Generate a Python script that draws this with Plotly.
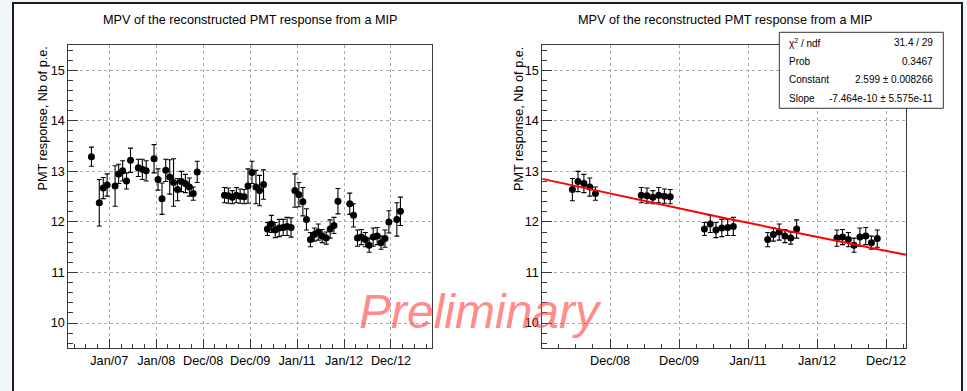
import math
from datetime import datetime, timedelta

import plotly.graph_objects as go

# Monthly most probable value of the PMT response to a MIP (p.e.)
months = [
    "2006-08", "2006-10", "2006-11", "2006-12", "2007-02", "2007-03", "2007-04",
    "2007-05", "2007-06", "2007-08", "2007-09", "2007-10", "2007-12", "2008-01",
    "2008-02", "2008-03", "2008-04", "2008-05", "2008-06", "2008-07", "2008-08",
    "2008-09", "2008-10", "2008-11", "2009-06", "2009-07", "2009-08", "2009-09",
    "2009-10", "2009-11", "2009-12", "2010-01", "2010-02", "2010-03", "2010-04",
    "2010-05", "2010-06", "2010-07", "2010-08", "2010-09", "2010-10", "2010-11",
    "2010-12", "2011-01", "2011-02", "2011-03", "2011-04", "2011-05", "2011-06",
    "2011-07", "2011-08", "2011-09", "2011-10", "2011-11", "2012-02", "2012-03",
    "2012-04", "2012-05", "2012-06", "2012-07", "2012-08", "2012-09", "2012-10",
    "2012-11", "2012-12", "2013-02", "2013-03",
]
mpv = [
    13.29, 12.38, 12.67, 12.73, 12.71, 12.95, 13.01,
    12.81, 13.22, 13.07, 13.04, 13.01, 13.25, 12.84,
    12.46, 13.02, 12.89, 12.78, 12.64, 12.80, 12.76,
    12.69, 12.56, 12.99, 12.53, 12.52, 12.49, 12.53,
    12.51, 12.50, 12.71, 12.98, 12.69, 12.62, 12.74,
    11.86, 11.96, 11.84, 11.88, 11.89, 11.91, 11.89,
    12.62, 12.54, 12.40, 12.05, 11.65, 11.75, 11.80,
    11.72, 11.68, 11.86, 11.93, 12.41, 12.36, 12.13,
    11.68, 11.70, 11.65, 11.54, 11.70, 11.72, 11.59,
    11.67, 12.00, 12.05, 12.21,
]
mpv_err = [
    0.19, 0.46, 0.21, 0.22, 0.40, 0.19, 0.20,
    0.16, 0.24, 0.17, 0.20, 0.20, 0.28, 0.21,
    0.31, 0.22, 0.34, 0.47, 0.22, 0.20, 0.18,
    0.18, 0.13, 0.21, 0.15, 0.15, 0.13, 0.15,
    0.14, 0.14, 0.34, 0.22, 0.33, 0.30, 0.29,
    0.13, 0.17, 0.15, 0.17, 0.16, 0.18, 0.19,
    0.33, 0.24, 0.28, 0.21, 0.14, 0.13, 0.16,
    0.13, 0.12, 0.18, 0.16, 0.25, 0.21, 0.23,
    0.16, 0.15, 0.14, 0.14, 0.18, 0.17, 0.13,
    0.17, 0.22, 0.33, 0.28,
]

# Months that enter the exponential fit
fit_months = [
    "2008-06", "2008-07", "2008-08", "2008-09", "2008-10",
    "2009-06", "2009-07", "2009-08", "2009-09", "2009-10", "2009-11",
    "2010-05", "2010-06", "2010-07", "2010-08", "2010-09", "2010-10",
    "2011-04", "2011-05", "2011-06", "2011-07", "2011-08", "2011-09",
    "2012-04", "2012-05", "2012-06", "2012-07", "2012-08", "2012-09",
    "2012-10", "2012-11",
]

# Fit result: expo, y = exp(constant + slope * t), t in seconds since fit_t0
chi2, ndf = 31.4, 29
prob = 0.3467
fit_constant, fit_constant_err = 2.599, 0.008266
fit_slope, fit_slope_err = -7.464e-10, 5.575e-11
fit_t0 = datetime(2006, 2, 1)

# Time axis: major divisions every 365.25 days from 2007-01-01
tick_labels = ["Jan/07", "Jan/08", "Dec/08", "Dec/09", "Jan/11", "Jan/12", "Dec/12"]
y_ticks = [10, 11, 12, 13, 14, 15]

title_text = "MPV of the reconstructed PMT response from a MIP"
y_title = "PMT response, Nb of p.e."

# ---------------------------------------------------------------------------
W, H = 967, 391
FONT = "Liberation Sans, Arial, Helvetica, sans-serif"


def fx(p):
    return p / W


def fy(p):
    return 1 - p / H


tick0 = datetime(2007, 1, 1)
year = timedelta(days=365.25)
tick_dates = [tick0 + i * year for i in range(len(tick_labels))]
minor_dates = [tick0 + (k / 4.0) * year for k in range(-5, 29) if k % 4 != 0]

x_all = [m + "-15" for m in months]
lookup = dict(zip(months, zip(mpv, mpv_err)))
x_fit = [m + "-15" for m in fit_months]
y_fit = [lookup[m][0] for m in fit_months]
e_fit = [lookup[m][1] for m in fit_months]

left_range = [datetime(2006, 2, 16), datetime(2013, 11, 18)]
right_range = [datetime(2008, 1, 7, 19), datetime(2013, 4, 16)]

# Fitted curve over the whole right-hand time range
n_line = 200
span = (right_range[1] - right_range[0]).total_seconds()
line_x = [right_range[0] + timedelta(seconds=span * i / (n_line - 1)) for i in range(n_line)]
line_y = [math.exp(fit_constant + fit_slope * (t - fit_t0).total_seconds()) for t in line_x]

marker = dict(size=7, color="black")
errbar = dict(type="data", color="black", thickness=1.1, width=2.5)

fig = go.Figure()
fig.add_trace(go.Scatter(
    x=x_all, y=mpv, mode="markers", marker=marker,
    error_y=dict(errbar, array=mpv_err), xaxis="x", yaxis="y", showlegend=False,
))
fig.add_trace(go.Scatter(
    x=x_fit, y=y_fit, mode="markers", marker=marker,
    error_y=dict(errbar, array=e_fit), xaxis="x2", yaxis="y2", showlegend=False,
))
fig.add_trace(go.Scatter(
    x=line_x, y=line_y, mode="lines", line=dict(color="#ff0000", width=2),
    xaxis="x2", yaxis="y2", showlegend=False, hoverinfo="skip",
))

axis_line = dict(
    showline=True, linecolor="#3a3a3a", linewidth=1, mirror=True,
    ticks="inside", tickcolor="#3a3a3a", tickwidth=1,
    showgrid=True, gridcolor="#a8a8a8", griddash="dot", gridwidth=1,
    zeroline=False, tickfont=dict(family=FONT, size=12.7, color="black"),
    fixedrange=True,
)


def x_axis(domain, rng, anchor):
    return dict(
        axis_line, type="date", domain=domain, range=rng, anchor=anchor,
        tickmode="array", tickvals=tick_dates, ticktext=tick_labels, ticklen=9,
        minor=dict(tickmode="array", tickvals=minor_dates, ticks="inside",
                   ticklen=4.5, tickcolor="#3a3a3a", showgrid=False),
    )


def y_axis(anchor):
    return dict(
        axis_line, anchor=anchor, domain=[fy(348.3), fy(45)], range=[9.5, 15.5],
        tickmode="array", tickvals=y_ticks, ticklen=10,
        minor=dict(dtick=0.2, tick0=0, ticks="inside", ticklen=5,
                   tickcolor="#3a3a3a", showgrid=False),
    )


annotations = []
for cx, ax_x in ((250, 42.5), (725, 519)):
    annotations.append(dict(
        text=title_text, x=fx(cx), y=fy(20), xref="paper", yref="paper",
        xanchor="center", yanchor="middle", showarrow=False,
        font=dict(family=FONT, size=12.7, color="black"),
    ))
    annotations.append(dict(
        text=y_title, x=fx(ax_x), y=fy(45), xref="paper", yref="paper",
        xanchor="center", yanchor="top", textangle=-90, showarrow=False,
        font=dict(family=FONT, size=12.7, color="black"),
    ))

# Fit statistics box
stat_rows = [
    ("\u03c7<sup>2</sup> / ndf", f"{chi2:g} / {ndf}"),
    ("Prob", f"{prob:.4f}"),
    ("Constant", f"{fit_constant:.3f} \u00b1 {fit_constant_err:g}"),
    ("Slope", f"{fit_slope:.3e} \u00b1 {fit_slope_err:.3e}"),
]
row_y = [42.7, 61, 80, 98.3]
for (lab, val), ry in zip(stat_rows, row_y):
    annotations.append(dict(
        text=lab, x=fx(786.5), y=fy(ry), xref="paper", yref="paper",
        xanchor="left", yanchor="middle", showarrow=False,
        font=dict(family=FONT, size=10, color="black"),
    ))
    annotations.append(dict(
        text=val, x=fx(934.5), y=fy(ry), xref="paper", yref="paper",
        xanchor="right", yanchor="middle", showarrow=False,
        font=dict(family=FONT, size=10, color="black"),
    ))

annotations.append(dict(
    text="<i>Preliminary</i>", x=fx(480), y=fy(311), xref="paper", yref="paper",
    xanchor="center", yanchor="middle", showarrow=False,
    font=dict(family=FONT, size=48, color="rgba(255,60,60,0.62)"),
))

shapes = [
    # canvas frame
    dict(type="rect", xref="paper", yref="paper", x0=fx(13), x1=fx(962),
         y0=-0.2, y1=fy(3), line=dict(color="#1c1c1c", width=2),
         fillcolor="white", layer="below"),
    # statistics box
    dict(type="rect", xref="paper", yref="paper", x0=fx(779.3), x1=fx(943.3),
         y0=fy(108.3), y1=fy(32.3), line=dict(color="#333333", width=1),
         fillcolor="white", layer="above"),
]

fig.update_layout(
    width=W, height=H, margin=dict(l=0, r=0, t=0, b=0),
    paper_bgcolor="#eff6fa", plot_bgcolor="white",
    font=dict(family=FONT, color="black"),
    xaxis=x_axis([fx(68.3), fx(432.3)], left_range, "y"),
    yaxis=y_axis("x"),
    xaxis2=x_axis([fx(542.3), fx(906)], right_range, "y2"),
    yaxis2=y_axis("x2"),
    annotations=annotations, shapes=shapes, showlegend=False,
)

fig.write_html("out.html")
